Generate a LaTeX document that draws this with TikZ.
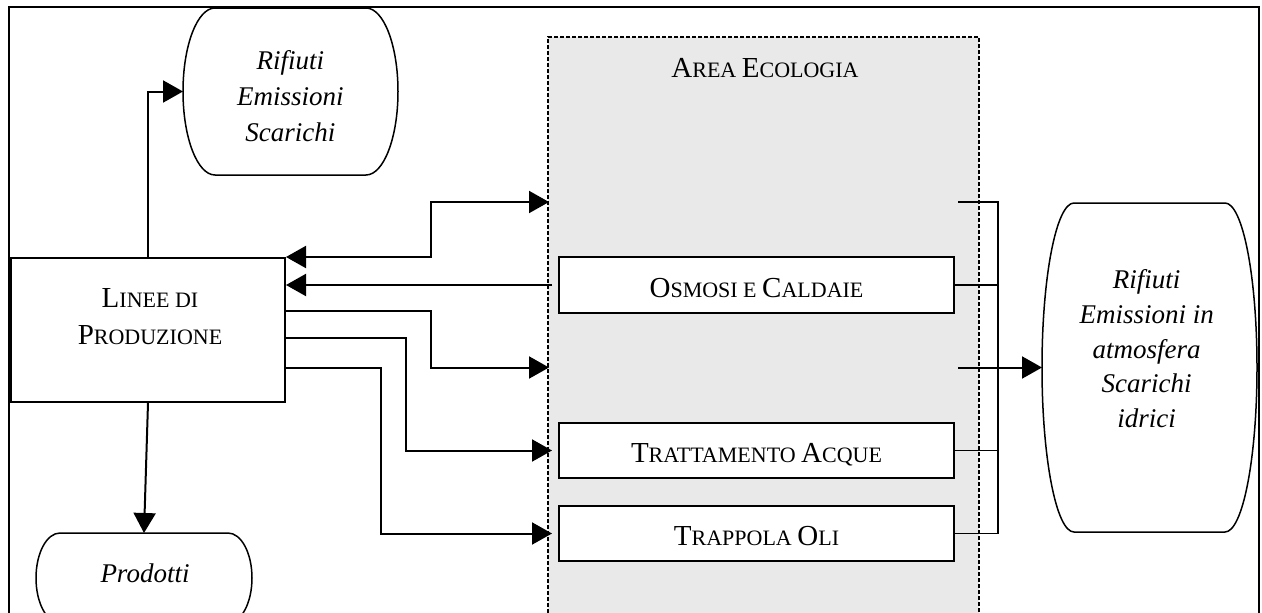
\documentclass[tikz,border=0pt]{standalone}
\usepackage{fontspec}
\setmainfont{Liberation Serif}
\usetikzlibrary{arrows.meta,calc}
\definecolor{areagray}{HTML}{E9E9E9}
\newcommand\smc[2]{{\fontsize{29}{36}\selectfont #1}{\fontsize{22}{36}\selectfont #2}}
\newcommand\termoutline[2]{%
  \draw[term] ([xshift=#2pt]#1.north west) -- ([xshift=-#2pt]#1.north east)
    .. controls ([xshift={-0.4477*#2pt}]#1.north east) and ($(#1.east)!0.5523!(#1.north east)$) .. (#1.east)
    .. controls ($(#1.east)!0.5523!(#1.south east)$) and ([xshift={-0.4477*#2pt}]#1.south east) .. ([xshift=-#2pt]#1.south east)
    -- ([xshift=#2pt]#1.south west)
    .. controls ([xshift={0.4477*#2pt}]#1.south west) and ($(#1.west)!0.5523!(#1.south west)$) .. (#1.west)
    .. controls ($(#1.west)!0.5523!(#1.north west)$) and ([xshift={0.4477*#2pt}]#1.north west) .. ([xshift=#2pt]#1.north west) -- cycle;}
\begin{document}
\begin{tikzpicture}[x=1pt,y=-1pt,
  frame/.style={line width=2pt},
  box/.style={draw, line width=2pt, fill=white, inner sep=0pt, text height=24pt, text depth=0pt, font=\fontsize{22}{36}\selectfont},
  ghost/.style={inner sep=0pt, outer sep=0pt, draw=none},
  term/.style={line width=1.5pt, fill=white},
  conn/.style={line width=2pt},
  thinline/.style={line width=1.3pt},
  tip/.style={-{Triangle[length=20pt,width=22pt]}},
  itext/.style={font=\fontsize{27}{36}\selectfont\itshape, align=center, inner sep=0pt, anchor=north}
]
\useasboundingbox (0,0) rectangle (1262,613);
% outer frame
\draw[frame] (9,613) -- (9,7) -- (1259,7) -- (1259,613);
% area ecologia
\node[ghost, minimum width=431pt, minimum height=576pt, anchor=north west] (area) at (548,37) {};
\fill[areagray] (area.north west) rectangle (area.south east);
\draw[line width=1.2pt, dash pattern=on 4pt off 2pt] (area.south west) -- (area.north west) -- (area.north east) -- (area.south east);
\node[font=\fontsize{22}{36}\selectfont, anchor=base, inner sep=0pt] (arealbl) at (765,77.3) {\smc{A}{REA} \smc{E}{COLOGIA}};
% boxes in area
\node[ghost, minimum width=409pt, minimum height=60pt] (e1) at (753.5,202) {};
\node[ghost, minimum width=409pt, minimum height=60pt] (e2) at (753.5,367.5) {};
\node[box, minimum width=395pt, minimum height=56pt] (os) at (756.5,285) {\smc{O}{SMOSI E} \smc{C}{ALDAIE}};
\node[box, minimum width=395pt, minimum height=55pt] (tr) at (756.5,450.5) {\smc{T}{RATTAMENTO} \smc{A}{CQUE}};
\node[box, minimum width=395pt, minimum height=55pt] (tp) at (756.5,533.5) {\smc{T}{RAPPOLA} \smc{O}{LI}};
% linee di produzione
\node[draw, line width=2pt, fill=white, inner sep=0pt, minimum width=274pt, minimum height=144pt] (lp) at (148,330) {};
\node[font=\fontsize{22}{36.3}\selectfont, align=center, inner sep=0pt, anchor=north] (lptext) at (150,282.3) {\strut\smc{L}{INEE DI}\\\smc{P}{RODUZIONE}};
% terminators
\node[ghost, minimum width=215pt, minimum height=167pt] (rt) at (290.5,91.5) {};
\termoutline{rt}{32}
\node[itext] (rttext) at (290.3,44.1) {\strut Rifiuti\\Emissioni\\Scarichi};
\node[ghost, minimum width=215pt, minimum height=329pt] (rr) at (1149.5,367.5) {};
\termoutline{rr}{32}
\node[itext, font=\fontsize{27}{34.75}\selectfont\itshape] (rrtext) at (1146.7,264) {\strut Rifiuti\\Emissioni in\\atmosfera\\Scarichi\\idrici};
\node[ghost, minimum width=216pt, minimum height=90pt] (pr) at (144,578) {};
\termoutline{pr}{24}
\node[font=\fontsize{27}{36}\selectfont\itshape, anchor=base, inner sep=0pt] (prtext) at (145,582.3) {Prodotti};
% connectors
\coordinate (v1) at (431,0);
\coordinate (v2) at (406,0);
\coordinate (v3) at (381,0);
\coordinate (bx) at (998,0);
\draw[conn, {Triangle[length=20pt,width=22pt]}-{Triangle[length=20pt,width=22pt]}] (lp.north east) -- (lp.north east -| v1) -- (v1 |- e1.west) -- (e1.west);
\draw[conn,tip] ([xshift=-6pt]os.west) -- (lp.east |- os.west);
\draw[conn,tip] ($(lp.north east)+(0,54)$) -| (v1 |- e2.west) -- (e2.west);
\draw[conn,tip] ($(lp.north east)+(0,81.3)$) -| (v2 |- tr.west) -- ([xshift=-6pt]tr.west);
\draw[conn,tip] (lp.east |- e2.west) -| (v3 |- tp.west) -- ([xshift=-6pt]tp.west);
\draw[conn,tip] (lp.north) |- (rt.west);
\draw[conn,tip] (lp.south) -- (pr.north);
\draw[thinline] (e1.east) -- (e1.east -| bx) -- (bx |- tp.east) -- (tp.east);
\draw[thinline] (os.east) -- (os.east -| bx);
\draw[thinline] (tr.east) -- (tr.east -| bx);
\draw[conn,tip] (e2.east) -- (rr.west);
\end{tikzpicture}
\end{document}
